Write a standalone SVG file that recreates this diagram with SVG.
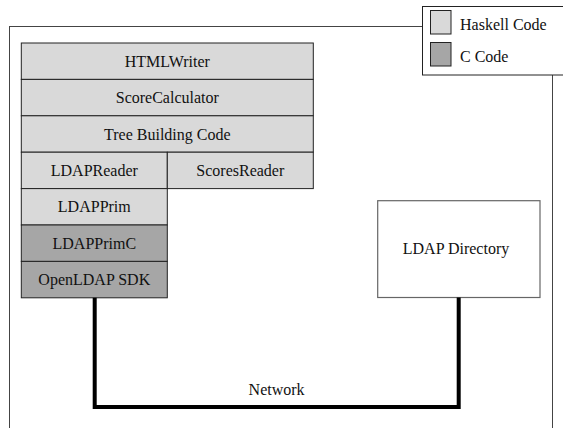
<svg xmlns="http://www.w3.org/2000/svg" width="563" height="428" viewBox="0 0 563 428">
<style>
  text { font-family: "Liberation Serif", "Times New Roman", serif; font-size: 16px; fill: #111; }
  .c { text-anchor: middle; }
  .hs { fill: #d9d9d9; stroke: #222; stroke-width: 1; }
  .cc { fill: #a6a6a6; stroke: #222; stroke-width: 1; }
  .frame { fill: none; stroke: #444; stroke-width: 1; }
  .box { fill: #fff; stroke: #666; stroke-width: 1.2; }
  .net { fill: none; stroke: #000; stroke-width: 4; stroke-linejoin: miter; }
</style>
<rect width="563" height="428" fill="#fff"/>
<rect class="frame" x="9.5" y="26.5" width="543" height="420"/>

<g id="legend">
  <rect x="422.5" y="6.5" width="150" height="68.5" fill="#fff" stroke="#222" stroke-width="1"/>
  <rect class="hs" x="430.5" y="10.5" width="20.5" height="23.5" stroke="#444"/>
  <text x="460" y="29.5">Haskell Code</text>
  <rect class="cc" x="430.5" y="42.5" width="20.5" height="23.5" stroke="#444"/>
  <text x="460" y="62">C Code</text>
</g>

<g id="htmlwriter">
  <rect class="hs" x="21.3" y="43" width="292" height="36.4"/>
  <text class="c" x="167.3" y="66.7">HTMLWriter</text>
</g>
<g id="scorecalculator">
  <rect class="hs" x="21.3" y="79.4" width="292" height="36.4"/>
  <text class="c" x="167.3" y="103.1">ScoreCalculator</text>
</g>
<g id="treebuilding">
  <rect class="hs" x="21.3" y="115.8" width="292" height="36.4"/>
  <text class="c" x="167.3" y="139.5">Tree Building Code</text>
</g>
<g id="ldapreader">
  <rect class="hs" x="21.3" y="152.2" width="146" height="36.4"/>
  <text class="c" x="94.3" y="175.9">LDAPReader</text>
</g>
<g id="scoresreader">
  <rect class="hs" x="167.3" y="152.2" width="146" height="36.4"/>
  <text class="c" x="240.3" y="175.9">ScoresReader</text>
</g>
<g id="ldapprim">
  <rect class="hs" x="21.3" y="188.6" width="146" height="36.4"/>
  <text class="c" x="94.3" y="212.3">LDAPPrim</text>
</g>
<g id="ldapprimc">
  <rect class="cc" x="21.3" y="225" width="146" height="36.4"/>
  <text class="c" x="94.3" y="248.7">LDAPPrimC</text>
</g>
<g id="openldap">
  <rect class="cc" x="21.3" y="261.4" width="146" height="36.4"/>
  <text class="c" x="94.3" y="285.1">OpenLDAP SDK</text>
</g>

<g id="ldapdirectory">
  <rect class="box" x="377.7" y="200.7" width="162.3" height="96.8"/>
  <text class="c" x="456" y="254">LDAP Directory</text>
</g>

<g id="connectors">
  <path class="net" d="M94.7 297.8 V407 H458.7 V297.5"/>
  <text class="c" x="276.6" y="395">Network</text>
</g>
</svg>
